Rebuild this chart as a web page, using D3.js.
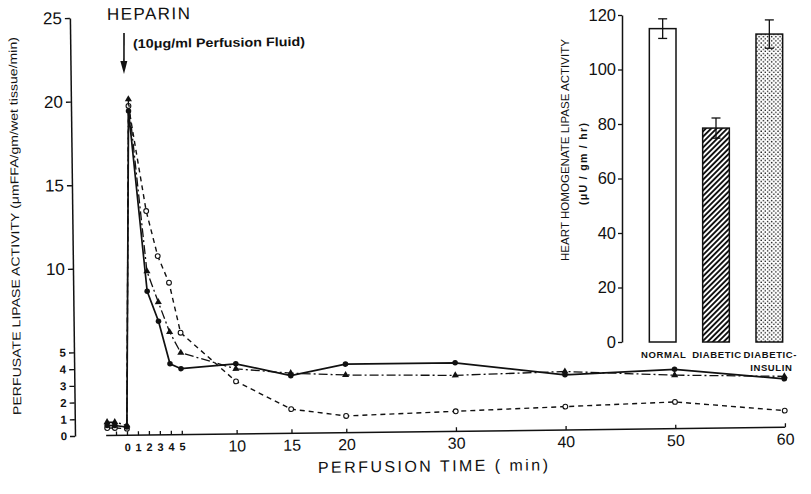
<!DOCTYPE html>
<html>
<head>
<meta charset="utf-8">
<script src="https://cdn.jsdelivr.net/npm/d3@7"></script>
<style>
body { margin: 0; background: #fff; }
svg text { font-family: "Liberation Sans", "DejaVu Sans", sans-serif; fill: #111; }
</style>
</head>
<body>
<svg id="chart" width="811" height="494"></svg>
<script>
// Data
var times = [-1.8, -1.1, 0, 0.5, 2, 3, 4, 5, 10, 15, 20, 30, 40, 50, 60];
var solidDots = [0.6, 0.6, 0.5, 19.4, 8.6, 6.8, 4.25, 3.95, 4.2, 3.45, 4.1, 4.1, 3.3, 3.55, 2.9];
var dashDotTriangles = [0.8, 0.8, 0.6, 20.1, 9.8, 7.95, 6.15, 4.9, 3.9, 3.6, 3.45, 3.35, 3.5, 3.2, 3.05];
var dashedCircles = [0.45, 0.45, 0.4, 19.7, 13.4, 10.7, 9.1, 6.1, 3.15, 1.45, 1.0, 1.2, 1.4, 1.6, 1.0];
var yTicks = [0, 1, 2, 3, 4, 5, 10, 15, 20, 25];
var xTicks = [-1, 0, 1, 2, 3, 4, 5, 10, 15, 20, 30, 40, 50, 60];

var barCats = ["NORMAL", "DIABETIC", "DIABETIC-INSULIN"];
var barLabels = [["NORMAL"], ["DIABETIC"], ["DIABETIC-", "INSULIN"]];
var barVals = [115, 78.5, 113];
var barErr = [3.6, 3.7, 5.2];
var barTicks = [0, 20, 40, 60, 80, 100, 120];

var svg = d3.select("#chart");

// the scanned figure is turned a little, so the main chart is drawn straight and rotated
var tilt = -0.7, pivotX = 75, pivotY = 436;
function unrot(px, py) {
    var a = -tilt * Math.PI / 180, dx = px - pivotX, dy = py - pivotY;
    return [pivotX + dx * Math.cos(a) - dy * Math.sin(a), pivotY + dx * Math.sin(a) + dy * Math.cos(a)];
}

// patterns for the bars
var defs = svg.append("defs");
var hatch = defs.append("pattern").attr("id", "hatch")
    .attr("patternUnits", "userSpaceOnUse").attr("width", 3.8).attr("height", 3.8)
    .attr("patternTransform", "rotate(45)");
hatch.append("rect").attr("width", 3.8).attr("height", 3.8).attr("fill", "#fff");
hatch.append("rect").attr("width", 1.9).attr("height", 3.8).attr("fill", "#111");
var dots = defs.append("pattern").attr("id", "dots")
    .attr("patternUnits", "userSpaceOnUse").attr("width", 4.2).attr("height", 4.2);
dots.append("rect").attr("width", 4.2).attr("height", 4.2).attr("fill", "#fff");
dots.append("circle").attr("cx", 1).attr("cy", 1).attr("r", 0.75).attr("fill", "#111");
dots.append("circle").attr("cx", 3.1).attr("cy", 3.1).attr("r", 0.75).attr("fill", "#111");

var g = svg.append("g").attr("transform", "rotate(" + tilt + "," + pivotX + "," + pivotY + ")");

var x = d3.scaleLinear().domain([0, 60]).range([127, 785]);
var y = d3.scaleLinear().domain([0, 25]).range([436, 18]);

// Y axis
var yAxis = g.append("g").attr("transform", "translate(75,0)")
    .call(d3.axisLeft(y).tickValues(yTicks).tickSize(5).tickPadding(3).tickSizeOuter(0));
yAxis.select(".domain").attr("stroke", "#111").attr("stroke-width", 1.5);
yAxis.selectAll(".tick line").attr("stroke", "#111").attr("stroke-width", 1.4);
yAxis.selectAll(".tick text")
    .style("font-size", function(d) { return d <= 5 ? "11.5px" : "17px"; })
    .style("font-weight", function(d) { return d <= 5 ? "bold" : "normal"; });

// X axis
var xAxis = g.append("g").attr("transform", "translate(0,436)")
    .call(d3.axisBottom(x).tickValues(xTicks).tickSize(-4).tickPadding(6).tickSizeOuter(0)
        .tickFormat(function(d) { return d < 0 ? "" : d; }));
xAxis.select(".domain").remove();
xAxis.append("line").attr("x1", x(-1.9)).attr("x2", x(60))
    .attr("stroke", "#111").attr("stroke-width", 1.5);
xAxis.selectAll(".tick line").attr("stroke", "#111").attr("stroke-width", 1.3);
xAxis.selectAll(".tick text")
    .style("font-size", function(d) { return d <= 5 ? "11px" : "16px"; })
    .style("font-weight", function(d) { return d <= 5 ? "bold" : "normal"; })
    .attr("dy", function(d) { return d <= 5 ? "0.9em" : "0.71em"; });

// series
var series = [
    { vals: dashedCircles, dash: "5,4", width: 1.4, marker: "ring" },
    { vals: dashDotTriangles, dash: "9,3,2,3", width: 1.3, marker: "tri" },
    { vals: solidDots, dash: null, width: 1.7, marker: "dot" }
];
var line = d3.line().x(function(d) { return x(d.t); }).y(function(d) { return y(d.v); });

series.forEach(function(s) {
    var pts = times.map(function(t, i) { return { t: t, v: s.vals[i] }; });
    g.append("path").datum(pts).attr("d", line)
        .attr("fill", "none").attr("stroke", "#111")
        .attr("stroke-width", s.width)
        .attr("stroke-dasharray", s.dash);
    var m = g.append("g").selectAll("path").data(pts).enter().append("path")
        .attr("transform", function(d) { return "translate(" + x(d.t) + "," + y(d.v) + ")"; });
    if (s.marker == "dot") {
        m.attr("d", d3.symbol(d3.symbolCircle, 24)).attr("fill", "#111");
    } else if (s.marker == "tri") {
        m.attr("d", d3.symbol(d3.symbolTriangle, 22)).attr("fill", "#111");
    } else {
        m.attr("d", d3.symbol(d3.symbolCircle, 18)).attr("fill", "#fff")
            .attr("stroke", "#111").attr("stroke-width", 1.1);
    }
});

// heparin note
var p = unrot(107, 20);
g.append("text").attr("x", p[0]).attr("y", p[1]).text("HEPARIN")
    .style("font-size", "17px").attr("textLength", 83).attr("lengthAdjust", "spacing");
p = unrot(133, 48);
g.append("text").attr("x", p[0]).attr("y", p[1]).text("(10\u03bcg/ml Perfusion Fluid)")
    .style("font-size", "12.5px").style("font-weight", "bold")
    .attr("textLength", 172).attr("lengthAdjust", "spacingAndGlyphs");
var a0 = unrot(124, 33), a1 = unrot(124, 74);
g.append("line").attr("x1", a0[0]).attr("y1", a0[1]).attr("x2", a1[0]).attr("y2", a1[1] - 4)
    .attr("stroke", "#111").attr("stroke-width", 1.6);
g.append("path").attr("d", "M" + (a1[0] - 3.5) + "," + (a1[1] - 13) + "L" + a1[0] + "," + a1[1] +
    "L" + (a1[0] + 3.5) + "," + (a1[1] - 13) + "Z").attr("fill", "#111");

// axis titles
p = unrot(15, 226);
g.append("text").attr("transform", "translate(" + p[0] + "," + p[1] + ") rotate(-90)")
    .attr("text-anchor", "middle").attr("dy", "0.35em")
    .text("PERFUSATE LIPASE ACTIVITY (\u03bcmFFA/gm/wet tissue/min)")
    .style("font-size", "11.5px").attr("textLength", 378).attr("lengthAdjust", "spacingAndGlyphs");
p = unrot(318, 473);
g.append("text").attr("x", p[0]).attr("y", p[1]).text("PERFUSION  TIME ( min)")
    .style("font-size", "16px").attr("textLength", 230).attr("lengthAdjust", "spacing");

// inset bar chart
var ins = svg.append("g");
var y2 = d3.scaleLinear().domain([0, 120]).range([342, 15]);
var band = d3.scaleBand().domain(barCats).range([636, 796]).paddingInner(0.5).paddingOuter(0.25);

var y2Axis = ins.append("g").attr("transform", "translate(622,0)")
    .call(d3.axisLeft(y2).tickValues(barTicks).tickSize(4).tickPadding(2).tickSizeOuter(0));
y2Axis.select(".domain").attr("stroke", "#111").attr("stroke-width", 1.5);
y2Axis.selectAll(".tick line").attr("stroke", "#111").attr("stroke-width", 1.3);
y2Axis.selectAll(".tick text").style("font-size", "16.5px");

var fills = ["#fff", "url(#hatch)", "url(#dots)"];
ins.selectAll(".bar").data(barCats).enter().append("rect").attr("class", "bar")
    .attr("x", function(d) { return band(d); })
    .attr("y", function(d, i) { return y2(barVals[i]); })
    .attr("width", band.bandwidth())
    .attr("height", function(d, i) { return y2(0) - y2(barVals[i]); })
    .attr("fill", function(d, i) { return fills[i]; })
    .attr("stroke", "#111").attr("stroke-width", 1.5);

var err = ins.selectAll(".err").data(barCats).enter().append("g").attr("class", "err")
    .attr("stroke", "#111").attr("stroke-width", 1.3);
err.append("line")
    .attr("x1", function(d) { return band(d) + band.bandwidth() / 2; })
    .attr("x2", function(d) { return band(d) + band.bandwidth() / 2; })
    .attr("y1", function(d, i) { return y2(barVals[i] + barErr[i]); })
    .attr("y2", function(d, i) { return y2(barVals[i] - barErr[i]); });
[1, -1].forEach(function(sgn) {
    err.append("line")
        .attr("x1", function(d) { return band(d) + band.bandwidth() / 2 - 4.5; })
        .attr("x2", function(d) { return band(d) + band.bandwidth() / 2 + 4.5; })
        .attr("y1", function(d, i) { return y2(barVals[i] + sgn * barErr[i]); })
        .attr("y2", function(d, i) { return y2(barVals[i] + sgn * barErr[i]); });
});

barCats.forEach(function(c, i) {
    barLabels[i].forEach(function(txt, j) {
        ins.append("text").attr("x", band(c) + band.bandwidth() / 2 + (j == 1 ? 2 : 1))
            .attr("y", 358 + j * 13).attr("text-anchor", "middle").text(txt)
            .style("font-size", "9.5px").style("font-weight", "bold").style("letter-spacing", "0.6px");
    });
});

ins.append("text").attr("transform", "translate(565,150) rotate(-90)")
    .attr("text-anchor", "middle").attr("dy", "0.35em")
    .text("HEART HOMOGENATE LIPASE ACTIVITY")
    .style("font-size", "11.5px").attr("textLength", 222).attr("lengthAdjust", "spacing");
ins.append("text").attr("transform", "translate(583,164) rotate(-90)")
    .attr("text-anchor", "middle").attr("dy", "0.35em")
    .text("(\u03bcU / gm / hr)")
    .style("font-size", "10.5px").style("font-weight", "bold").attr("textLength", 82).attr("lengthAdjust", "spacing");
</script>
</body>
</html>
